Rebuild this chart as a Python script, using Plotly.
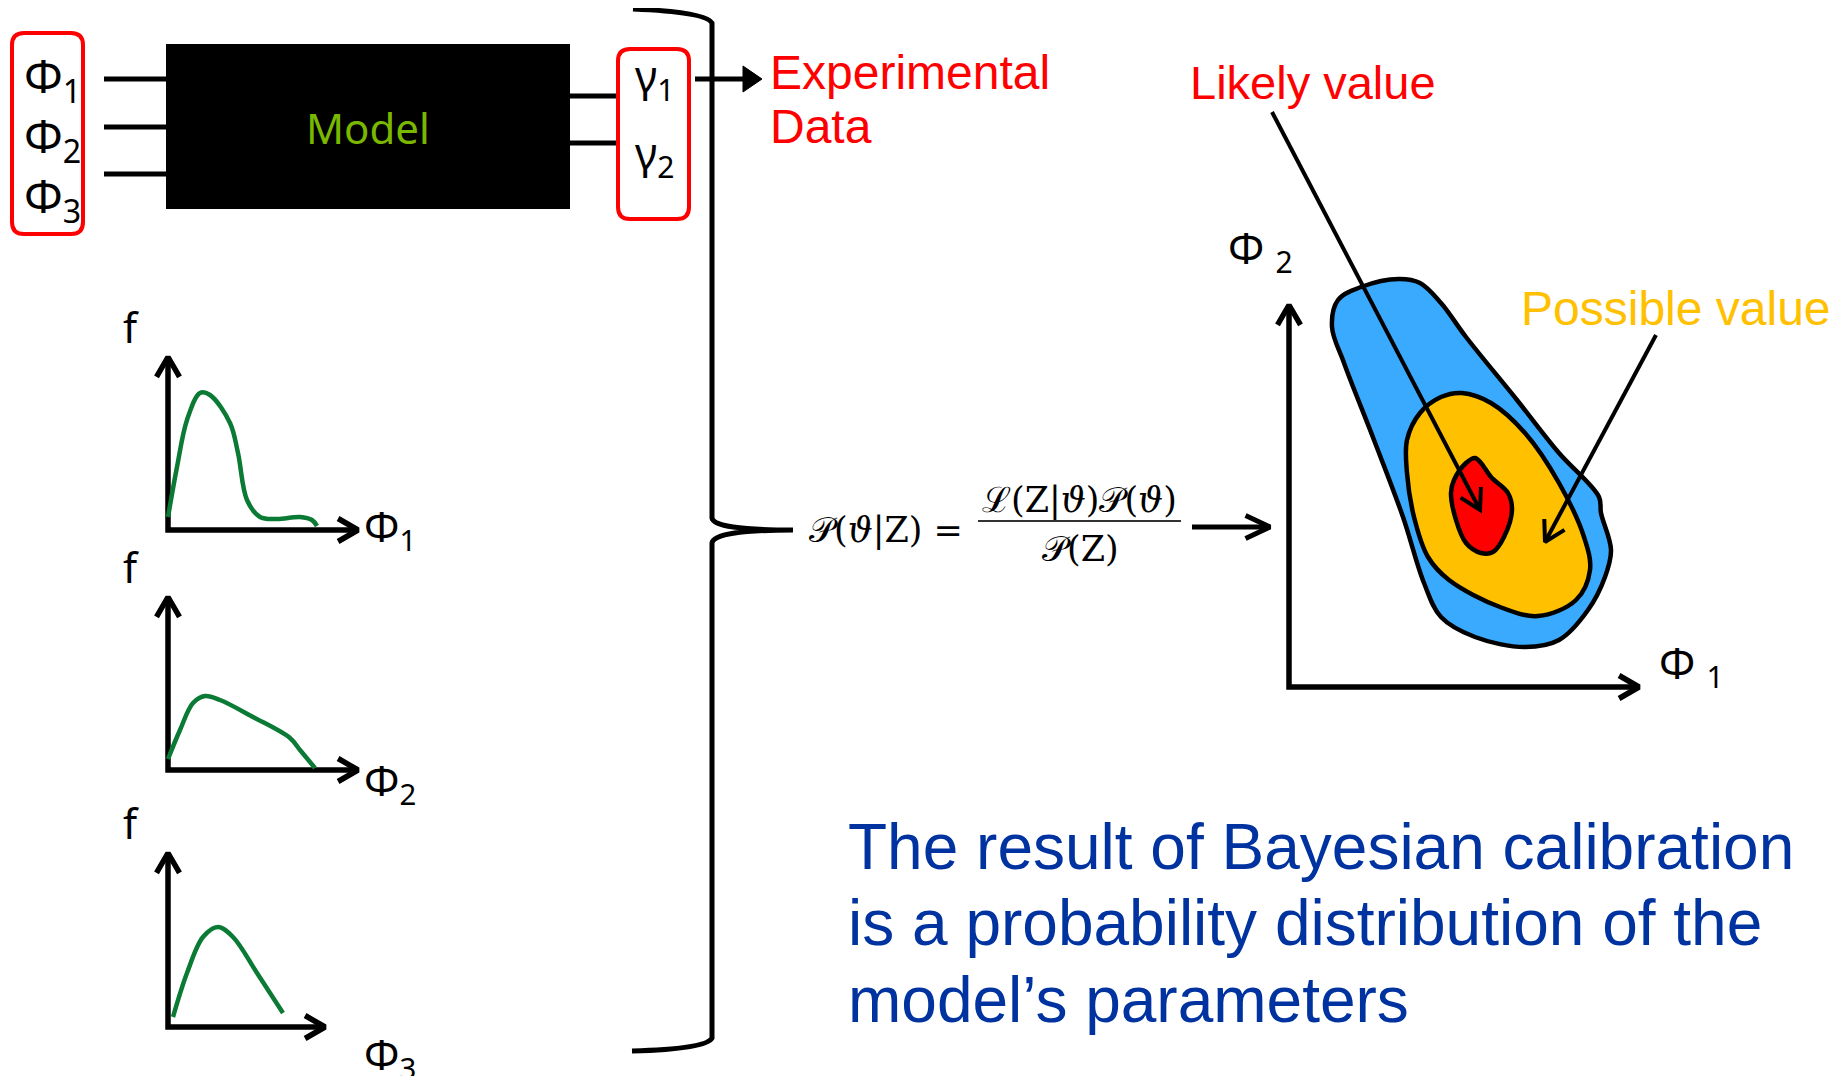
import math

import plotly.graph_objects as go

W, H = 1840, 1076
PAD = 8  # default body margin of the html page

# ---- prior densities (left column), pixel coords of the hand-drawn curves
pdf1_x = [168, 177, 187, 200, 210, 230, 238, 247, 260, 277, 300, 312, 317]
pdf1_y = [517, 467, 420, 393, 395, 423, 453, 500, 517, 519, 517, 520, 526]
pdf2_x = [168, 180, 193, 205, 220, 253, 290, 300, 315]
pdf2_y = [759, 730, 703, 696, 700, 717, 738, 750, 768]
pdf3_x = [173, 187, 203, 218, 233, 257, 283]
pdf3_y = [1017, 973, 937, 927, 937, 973, 1013]

small_origin_x = [168, 168, 168]
small_origin_y = [530, 770, 1027]
small_top_y = [357, 597, 853]
small_right_x = [358, 358, 325]
small_labels = ["Φ<sub>1</sub>", "Φ<sub>2</sub>", "Φ<sub>3</sub>"]
small_label_y = [528, 782, 1056]

# ---- posterior regions (right), outline points
blue_x = [1332, 1338, 1361, 1399, 1420, 1441, 1466, 1517, 1559, 1599, 1601, 1611,
          1605, 1588, 1559, 1525, 1475, 1441, 1424, 1403, 1374, 1344, 1332]
blue_y = [327, 300, 287, 279, 283, 303, 337, 400, 453, 497, 513, 550,
          577, 610, 640, 647, 637, 617, 583, 517, 440, 363, 327]
orange_x = [1407, 1420, 1441, 1462, 1491, 1525, 1559, 1584, 1590, 1576, 1538,
            1500, 1449, 1428, 1414, 1407, 1407]
orange_y = [440, 413, 397, 393, 403, 433, 483, 537, 570, 600, 616,
            607, 580, 557, 517, 473, 440]
red_x = [1454, 1466, 1475, 1481, 1491, 1508, 1512, 1504, 1493, 1481, 1466, 1456, 1451, 1454]
red_y = [480, 463, 458, 463, 477, 493, 510, 537, 552, 553, 543, 520, 493, 480]

big_origin = (1289, 687)
big_top_y = 305
big_right_x = 1639

# arrows: (tail, tip)
likely_arrow = ((1272, 112), (1480, 510))
possible_arrow = ((1656, 335), (1545, 542))
formula_arrow = ((1192, 527), (1270, 527))
data_arrow = ((695, 79), (762, 79))

# model block
in_y = [79, 127, 174]
out_y = [96, 143]
phi_box_y = [78, 138, 198]
gamma_y = [78, 155]

conclusion = ["The result of Bayesian calibration",
              "is a probability distribution of the",
              "model’s parameters"]
conclusion_y = [847, 923, 1000]

BLACK = "black"
GREEN = "#0B7A35"


def v_head(tail, tip, length=23, half=30):
    dx, dy = tail[0] - tip[0], tail[1] - tip[1]
    n = math.hypot(dx, dy)
    ux, uy = dx / n, dy / n
    xs, ys = [], []
    for s in (-1, 1):
        a = math.radians(half) * s
        rx = ux * math.cos(a) - uy * math.sin(a)
        ry = ux * math.sin(a) + uy * math.cos(a)
        xs.append(tip[0] + rx * length)
        ys.append(tip[1] + ry * length)
    return [xs[0], tip[0], xs[1]], [ys[0], tip[1], ys[1]]


def line(fig, xs, ys, color=BLACK, width=5, shape="linear"):
    fig.add_trace(go.Scatter(x=xs, y=ys, mode="lines",
                             line=dict(color=color, width=width, shape=shape),
                             hoverinfo="skip", showlegend=False))


def arrow(fig, tail, tip, width=5, length=23, half=30):
    line(fig, [tail[0], tip[0]], [tail[1], tip[1]], width=width)
    hx, hy = v_head(tail, tip, length, half)
    line(fig, hx, hy, width=width)


def blob(fig, xs, ys, fill):
    fig.add_trace(go.Scatter(x=xs, y=ys, mode="lines", fill="toself", fillcolor=fill,
                             line=dict(color=BLACK, width=4.5, shape="spline", smoothing=1.0),
                             hoverinfo="skip", showlegend=False))


def rounded(x0, y0, x1, y1, r):
    return (f"M {x0+r},{y0} L {x1-r},{y0} Q {x1},{y0} {x1},{y0+r} L {x1},{y1-r} "
            f"Q {x1},{y1} {x1-r},{y1} L {x0+r},{y1} Q {x0},{y1} {x0},{y1-r} "
            f"L {x0},{y0+r} Q {x0},{y0} {x0+r},{y0} Z")


def text(fig, x, y, s, size, color=BLACK, family="Noto Sans", xanchor="left", yanchor="middle"):
    fig.add_annotation(x=x, y=y, text=s, showarrow=False, xanchor=xanchor, yanchor=yanchor,
                       font=dict(size=size, color=color, family=family), align="left")


fig = go.Figure()

# --- model block
fig.add_shape(type="rect", x0=166, y0=44, x1=570, y1=209, fillcolor=BLACK, line_width=0)
for y in in_y:
    line(fig, [104, 166], [y, y])
for y in out_y:
    line(fig, [570, 616], [y, y])
fig.add_shape(type="path", path=rounded(12, 33, 83, 234, 12), line=dict(color="#FF0000", width=4))
fig.add_shape(type="path", path=rounded(618, 49, 689, 219, 12), line=dict(color="#FF0000", width=4))
text(fig, 368, 127, "Model", 42, color="#7AB800", xanchor="center")
for i, y in enumerate(phi_box_y):
    text(fig, 22, y, f"Φ<sub>{i+1}</sub>", 46)
for i, y in enumerate(gamma_y):
    text(fig, 633, y, f"γ<sub>{i+1}</sub>", 43)

# --- brace
fig.add_shape(type="path", line=dict(color=BLACK, width=5),
              path="M 633,9 Q 706,12 712,23 L 712,518 Q 714,530 793,530 "
                   "M 793,530 Q 714,530 712,543 L 712,1038 Q 706,1049 632,1051")

# --- arrow to experimental data (filled head)
line(fig, [data_arrow[0][0], data_arrow[1][0] - 14], [data_arrow[0][1], data_arrow[1][1]])
tx, ty = data_arrow[1]
fig.add_trace(go.Scatter(x=[tx - 19, tx, tx - 19, tx - 19], y=[ty - 13, ty, ty + 13, ty - 13],
                         mode="lines", fill="toself", fillcolor=BLACK,
                         line=dict(color=BLACK, width=1), hoverinfo="skip", showlegend=False))
text(fig, 768, 72, "Experimental", 48, color="#FF0000", family="Liberation Sans")
text(fig, 768, 126, "Data", 48, color="#FF0000", family="Liberation Sans")

# --- prior densities
for ox, oy, ty_, rx, lab, ly in zip(small_origin_x, small_origin_y, small_top_y,
                                    small_right_x, small_labels, small_label_y):
    line(fig, [ox, ox, rx], [ty_, oy, oy], width=5.5)
    hx, hy = v_head((ox, oy), (ox, ty_))
    line(fig, hx, hy, width=5.5)
    hx, hy = v_head((ox, oy), (rx, oy))
    line(fig, hx, hy, width=5.5)
    text(fig, 131, ty_ - 30, "f", 41, xanchor="center")
    text(fig, 362, ly, lab, 42)
for xs, ys in ((pdf1_x, pdf1_y), (pdf2_x, pdf2_y), (pdf3_x, pdf3_y)):
    line(fig, xs, ys, color=GREEN, width=4.5, shape="spline")

# --- Bayes formula
text(fig, 886, 530, "𝒫(<i>ϑ</i>|Z) =", 35, family="DejaVu Serif", xanchor="center")
text(fig, 1079, 500, "ℒ(Z|<i>ϑ</i>)𝒫(<i>ϑ</i>)", 35, family="DejaVu Serif", xanchor="center")
text(fig, 1080, 549, "𝒫(Z)", 35, family="DejaVu Serif", xanchor="center")
line(fig, [978, 1181], [521, 521], color="#333333", width=2)
arrow(fig, *formula_arrow, width=5, length=27, half=25)

# --- posterior
blob(fig, blue_x, blue_y, "#3AAAFF")
blob(fig, orange_x, orange_y, "#FFC000")
blob(fig, red_x, red_y, "#FF0000")
ox, oy = big_origin
line(fig, [ox, ox, big_right_x], [big_top_y, oy, oy], width=5.5)
hx, hy = v_head((ox, oy), (ox, big_top_y))
line(fig, hx, hy, width=5.5)
hx, hy = v_head((ox, oy), (big_right_x, oy))
line(fig, hx, hy, width=5.5)
text(fig, 1226, 250, "Φ <sub>2</sub>", 43)
text(fig, 1657, 665, "Φ <sub>1</sub>", 43)
arrow(fig, *likely_arrow, width=4)
arrow(fig, *possible_arrow, width=4)
text(fig, 1188, 82, "Likely value", 47, color="#FF0000", family="Liberation Sans")
text(fig, 1519, 308, "Possible value", 48, color="#FFC000", family="Liberation Sans")

# --- conclusion
for y, s in zip(conclusion_y, conclusion):
    text(fig, 846, y, s, 64, color="#0033A0", family="Liberation Sans")

# page keeps an 8px body margin, so shift the ranges to keep page pixels == data units
fig.update_xaxes(range=[PAD, W], visible=False, fixedrange=True)
fig.update_yaxes(range=[H, PAD], visible=False, fixedrange=True)
fig.update_layout(width=W - PAD, height=H - PAD, margin=dict(l=0, r=0, t=0, b=0),
                  plot_bgcolor="white", paper_bgcolor="white", showlegend=False)

fig.write_html("out.html")
